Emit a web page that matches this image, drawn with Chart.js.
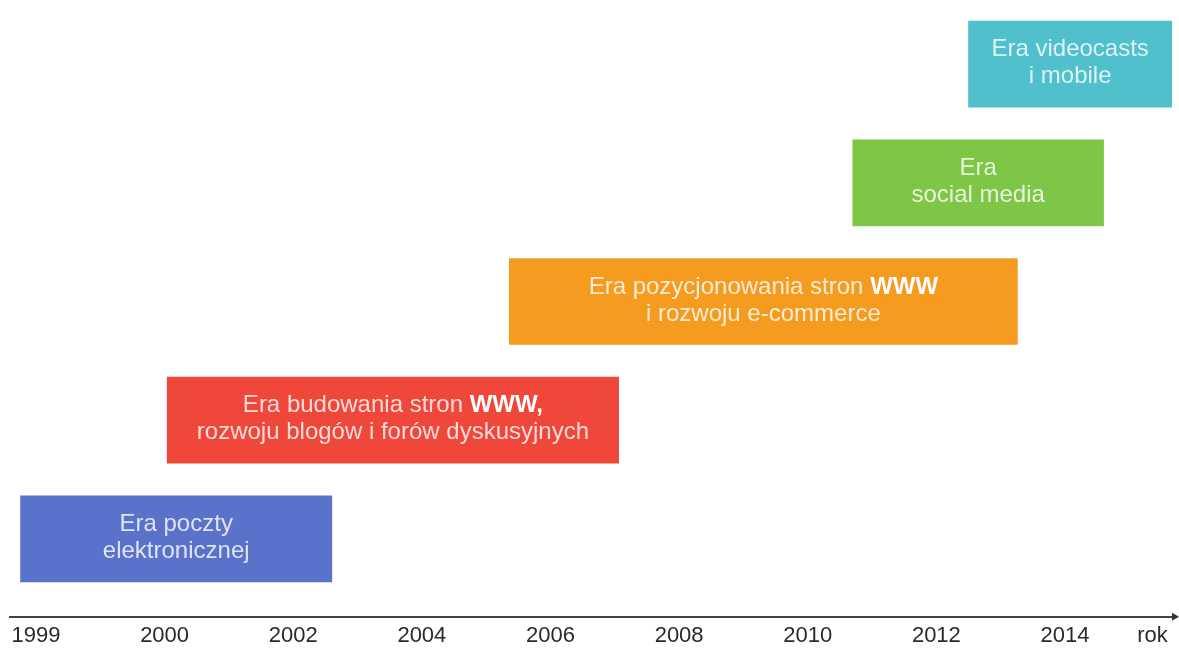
<!DOCTYPE html>
<html>
<head>
<meta charset="utf-8">
<script src="https://cdn.jsdelivr.net/npm/chart.js@4"></script>
<style>
  html, body { margin: 0; padding: 0; background: #fff; }
  #wrap { width: 1179px; height: 655px; }
</style>
</head>
<body>
<div id="wrap"><canvas id="timelineChart"></canvas></div>
<script>
// tick labels on the time axis (equal spacing, 1999 -> 2000 then every 2 years)
const tickYears = ["1999", "2000", "2002", "2004", "2006", "2008", "2010", "2012", "2014"];
const axisUnit = "rok";

// eras, bottom to top; **...** = bold part
const eraNames = [
  ["Era poczty", "elektronicznej"],
  ["Era budowania stron **WWW,**", "rozwoju blogów i forów dyskusyjnych"],
  ["Era pozycjonowania stron **WWW**", "i rozwoju e-commerce"],
  ["Era", "social media"],
  ["Era videocasts", "i mobile"],
];
const eraStart = [1998.88, 2000.04, 2005.36, 2010.7, 2012.5];
const eraEnd = [2002.6, 2007.06, 2013.26, 2014.6, 2015.66];
const eraColors = ["#5b72ca", "#ef483a", "#f49b20", "#80c646", "#50c0cc"];

// axis is not linear in years: 1999->2000 takes one slot, later slots are 2 years
function yearPos(y) {
  return y < 2000 ? y - 1999 : 1 + (y - 2000) / 2;
}

const eraData = eraStart.map((s, i) => ({ x: [yearPos(s), yearPos(eraEnd[i])], y: i }));

const FONT = "'Liberation Sans', Arial, Helvetica, sans-serif";

const eraTextPlugin = {
  id: "eraText",
  afterDatasetsDraw(chart) {
    const { ctx } = chart;
    const meta = chart.getDatasetMeta(0);
    const lineH = 27;
    meta.data.forEach((bar, i) => {
      const lines = eraNames[i];
      const cx = (bar.x + bar.base) / 2;
      const y0 = bar.y - ((lines.length - 1) * lineH) / 2 - 1;
      ctx.save();
      ctx.textBaseline = "middle";
      ctx.textAlign = "left";
      lines.forEach((line, li) => {
        const segs = line.split("**").map((t, k) => ({ t, bold: k % 2 === 1 })).filter((s) => s.t);
        let w = 0;
        segs.forEach((s) => {
          ctx.font = (s.bold ? "bold " : "") + "24px " + FONT;
          s.w = ctx.measureText(s.t).width;
          w += s.w;
        });
        let x = cx - w / 2;
        segs.forEach((s) => {
          ctx.font = (s.bold ? "bold " : "") + "24px " + FONT;
          ctx.fillStyle = s.bold ? "#ffffff" : "rgba(255,255,255,0.8)";
          ctx.fillText(s.t, x, y0 + li * lineH);
          x += s.w;
        });
      });
      ctx.restore();
    });
  },
};

const arrowPlugin = {
  id: "axisArrow",
  afterDraw(chart) {
    const { ctx, chartArea } = chart;
    const y = chartArea.bottom;
    const x = chartArea.right;
    ctx.save();
    ctx.fillStyle = "#333";
    ctx.beginPath();
    ctx.moveTo(x + 3, y);
    ctx.lineTo(x - 4, y - 4);
    ctx.lineTo(x - 4, y + 4);
    ctx.closePath();
    ctx.fill();
    ctx.restore();
  },
};

new Chart(document.getElementById("timelineChart"), {
  type: "bar",
  data: {
    datasets: [
      {
        data: eraData,
        backgroundColor: eraColors,
        borderWidth: 0,
        barThickness: 86,
        grouped: false,
      },
    ],
  },
  options: {
    indexAxis: "y",
    responsive: true,
    maintainAspectRatio: false,
    animation: false,
    layout: { padding: { left: 10, right: 3, top: 0, bottom: 0 } },
    scales: {
      x: {
        type: "linear",
        min: -0.202,
        max: 8.863,
        grid: { display: false, drawTicks: false },
        border: { display: true, color: "#444", width: 2 },
        afterBuildTicks: (scale) => {
          const t = tickYears.map((_, i) => ({ value: i }));
          t.push({ value: 8.68 });
          scale.ticks = t;
        },
        ticks: {
          autoSkip: false,
          maxRotation: 0,
          padding: 7,
          color: "#2a2a2a",
          font: { family: FONT, size: 22, lineHeight: 1.1 },
          callback: (v, i) => (i < tickYears.length ? tickYears[i] : axisUnit),
        },
      },
      y: {
        type: "linear",
        display: false,
        offset: false,
        min: -0.657,
        max: 4.541,
      },
    },
    plugins: {
      legend: { display: false },
      tooltip: { enabled: false },
    },
  },
  plugins: [eraTextPlugin, arrowPlugin],
});
</script>
</body>
</html>
